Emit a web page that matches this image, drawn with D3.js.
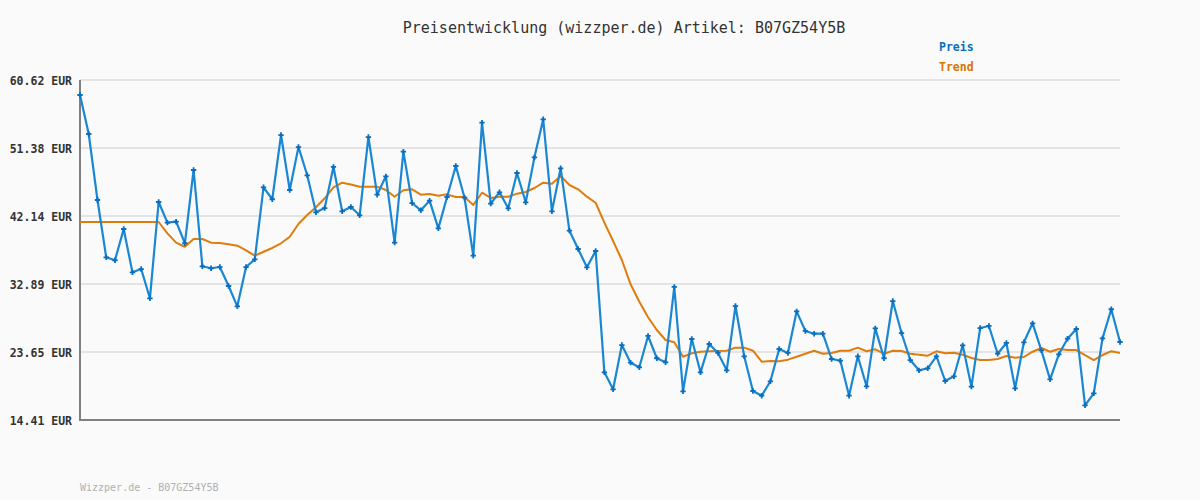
<!DOCTYPE html>
<html><head><meta charset="utf-8">
<script src="https://cdn.jsdelivr.net/npm/d3@7"></script>
<style>html,body{margin:0;padding:0;background:#fafafa;}svg{display:block;}</style>
</head><body><svg id="c" width="1200" height="500"></svg>
<script>
const title = "Preisentwicklung (wizzper.de) Artikel: B07GZ54Y5B";
const footer = "Wizzper.de - B07GZ54Y5B";
const seriesNames = ["Preis", "Trend"];
const yTicks = [14.41, 23.65, 32.89, 42.14, 51.38, 60.62];
const preis = [58.58,53.28,44.31,36.52,36.12,40.37,34.48,34.93,30.95,44.04,
41.23,41.36,38.43,48.39,35.30,35.03,35.20,32.62,29.86,35.20,
36.25,46.04,44.41,53.14,45.67,51.51,47.67,42.64,43.22,48.80,
42.77,43.36,42.23,52.87,45.03,47.53,38.51,50.88,43.90,42.91,
44.22,40.46,44.72,48.93,44.62,36.74,54.82,43.81,45.36,43.18,
47.98,44.00,50.11,55.28,42.77,48.62,40.14,37.65,35.16,37.38,
20.89,18.58,24.60,22.20,21.57,25.83,22.80,22.25,32.49,18.31,
25.42,20.89,24.74,23.52,21.16,29.90,23.07,18.35,17.71,19.67,
24.06,23.52,29.18,26.51,26.14,26.14,22.70,22.47,17.71,23.07,
18.99,26.87,22.80,30.58,26.23,22.56,21.16,21.44,23.07,19.71,
20.35,24.56,18.94,26.91,27.19,23.42,24.88,18.72,24.97,27.55,
23.88,19.94,23.34,25.46,26.78,16.41,18.04,25.51,29.46,25.01];
const trend = [41.32,41.32,41.32,41.32,41.32,41.32,41.32,41.32,41.32,41.32,
39.78,38.51,37.96,39.01,39.01,38.51,38.47,38.29,38.10,37.45,
36.74,37.28,37.79,38.43,39.32,41.05,42.27,43.32,44.54,46.04,
46.66,46.42,46.12,46.12,46.12,45.67,44.76,45.63,45.76,45.03,
45.13,44.89,45.08,44.72,44.72,43.63,45.30,44.58,44.76,44.76,
45.17,45.40,45.94,46.66,46.53,47.57,46.35,45.76,44.76,43.94,
41.23,38.74,36.16,32.85,30.49,28.37,26.64,25.28,24.97,23.01,
23.48,23.69,23.75,23.79,23.83,24.24,24.24,23.83,22.33,22.43,
22.39,22.61,23.01,23.42,23.83,23.42,23.52,23.83,23.83,24.24,
23.75,24.02,23.42,23.83,23.79,23.42,23.28,23.15,23.75,23.48,
23.56,23.28,22.84,22.56,22.56,22.70,23.11,22.88,22.97,23.69,
24.20,23.69,24.06,23.92,23.92,23.24,22.56,23.24,23.75,23.52];

const svg = d3.select("#c");
const W = 1200, H = 500;
const m = {l:80, r:80, t:80, b:80};
const x = d3.scaleLinear().domain([0, preis.length - 1]).range([m.l, W - m.r]);
const y = d3.scaleLinear().domain([yTicks[0], yTicks[yTicks.length-1]]).range([H - m.b, m.t]);
const mono = "'DejaVu Sans Mono', 'Liberation Mono', monospace";
const blue = "#1a87d3", blueDark = "#0a6dbd", orange = "#e07c0c";

svg.append("rect").attr("width", W).attr("height", H).attr("fill", "#fafafa");

// gridlines
svg.append("g").selectAll("line").data(yTicks).join("line")
  .attr("x1", m.l).attr("x2", W - m.r)
  .attr("y1", d => y(d)).attr("y2", d => y(d))
  .attr("stroke", "#e4e4e4").attr("stroke-width", 2);

// y axis labels via d3 axis
const yAxis = d3.axisLeft(y).tickValues(yTicks).tickSize(0).tickPadding(8)
  .tickFormat(d => d3.format(".2f")(d) + " EUR");
const ga = svg.append("g").attr("transform", `translate(${m.l},0)`).call(yAxis);
ga.select(".domain").remove();
ga.selectAll("text").attr("font-family", mono).attr("font-size", 11.5)
  .attr("font-weight", "bold").attr("fill", "#333").attr("dy", "0.35em");

// axes lines
svg.append("line").attr("x1", m.l).attr("x2", m.l).attr("y1", m.t).attr("y2", H - m.b + 1)
  .attr("stroke", "#808080").attr("stroke-width", 2);
svg.append("line").attr("x1", m.l - 1).attr("x2", W - m.r).attr("y1", H - m.b).attr("y2", H - m.b)
  .attr("stroke", "#808080").attr("stroke-width", 2);

// trend
svg.append("path").datum(trend)
  .attr("d", d3.line().x((d,i) => x(i)).y(d => y(d)))
  .attr("fill", "none").attr("stroke", orange).attr("stroke-width", 2).attr("stroke-linejoin", "round");

// price
svg.append("path").datum(preis)
  .attr("d", d3.line().x((d,i) => x(i)).y(d => y(d)))
  .attr("fill", "none").attr("stroke", blue).attr("stroke-width", 2.2).attr("stroke-linejoin", "round");

const sym = d3.symbol().type(d3.symbolCross).size(16);
svg.append("g").selectAll("path").data(preis).join("path")
  .attr("transform", (d,i) => `translate(${x(i)},${y(d)})`)
  .attr("d", sym).attr("fill", blueDark);

// title
svg.append("text").attr("x", 624).attr("y", 33).attr("text-anchor", "middle")
  .attr("font-family", mono).attr("font-size", 15).attr("fill", "#333").text(title);

// legend
const legColors = [blueDark, "#d97400"];
svg.append("g").selectAll("text").data(seriesNames).join("text")
  .attr("x", 939).attr("y", (d,i) => 51 + i*20)
  .attr("font-family", mono).attr("font-size", 11.5).attr("font-weight", "bold")
  .attr("fill", (d,i) => legColors[i]).text(d => d);

// footer
svg.append("text").attr("x", 80).attr("y", 491)
  .attr("font-family", mono).attr("font-size", 10).attr("fill", "#b0b0b0").text(footer);
</script></body></html>
